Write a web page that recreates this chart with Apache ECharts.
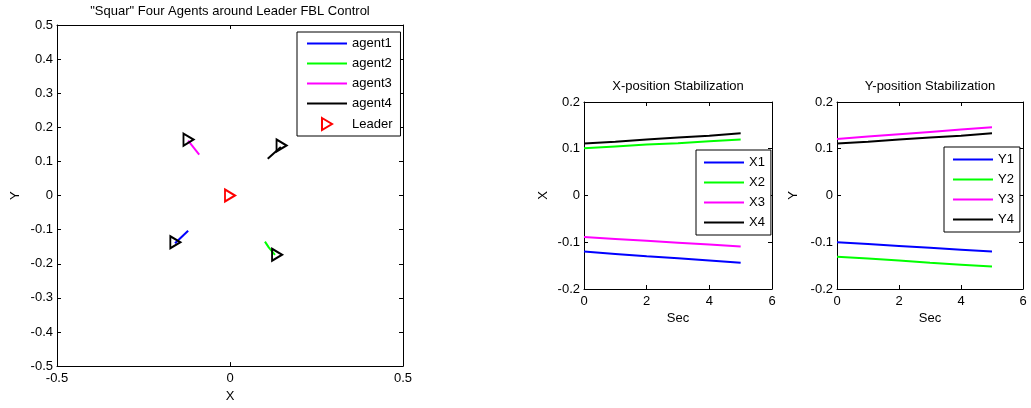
<!DOCTYPE html>
<html><head><meta charset="utf-8">
<script src="https://cdn.jsdelivr.net/npm/echarts@6/dist/echarts.min.js"></script>
<style>html,body{margin:0;padding:0;background:#fff}#c{width:1031px;height:408px}</style>
</head><body><div id="c"></div>
<script>
// ---- data ----
const timeSec = [0, 1, 2, 3, 4, 5];
const X1 = [-0.120, -0.125, -0.130, -0.134, -0.139, -0.144];
const X2 = [0.101, 0.105, 0.109, 0.112, 0.116, 0.120];
const X3 = [-0.089, -0.093, -0.097, -0.101, -0.105, -0.109];
const X4 = [0.111, 0.115, 0.120, 0.124, 0.128, 0.133];
const Y1 = [-0.100, -0.104, -0.108, -0.112, -0.116, -0.120];
const Y2 = [-0.131, -0.135, -0.139, -0.144, -0.148, -0.152];
const Y3 = [0.121, 0.126, 0.131, 0.136, 0.141, 0.146];
const Y4 = [0.111, 0.115, 0.120, 0.124, 0.128, 0.133];
const agent1Path = [[-0.121, -0.103], [-0.159, -0.140]];
const agent2Path = [[0.101, -0.135], [0.112, -0.152], [0.130, -0.174]];
const agent3Path = [[-0.089, 0.120], [-0.121, 0.161]];
const agent4Path = [[0.109, 0.108], [0.147, 0.142]];
const agentFinal = [[-0.158, -0.137], [0.136, -0.1735], [-0.120, 0.164], [0.149, 0.147]];
const leaderPos = [[0, 0]];
const agentNames = ['agent1', 'agent2', 'agent3', 'agent4', 'Leader'];
const xNames = ['X1', 'X2', 'X3', 'X4'];
const yNames = ['Y1', 'Y2', 'Y3', 'Y4'];
const colors = ['#0000ff', '#00ff00', '#ff00ff', '#000000'];

// ---- chart ----
const FONT = 'Liberation Sans, Arial, sans-serif';
const FS = 13;
const tri = 'path://M0,0L10,6L0,12Z';
const lineIcon = 'path://M0,0H40V2H0Z';
function zipT(vals) { return timeSec.map((t, i) => [t, vals[i]]); }

function axis(kind, grid, min, max, interval, opts) {
  opts = opts || {};
  const a = {
    type: 'value', gridIndex: grid, min: min, max: max, interval: interval,
    position: opts.position,
    axisLine: { show: true, onZero: false, lineStyle: { color: '#000', width: 1 } },
    axisTick: { show: true, inside: true, length: 4, lineStyle: { color: '#000' } },
    axisLabel: { show: !opts.mirror, color: '#000', fontFamily: FONT, fontSize: FS, margin: kind === 'x' ? 6 : 4 },
    splitLine: { show: false }
  };
  if (opts.name) {
    a.name = opts.name; a.nameLocation = 'middle'; a.nameGap = opts.nameGap;
    a.nameTextStyle = { color: '#000', fontFamily: FONT, fontSize: FS };
  }
  return a;
}

const grids = [
  { left: 57, top: 25, width: 346, height: 344 },
  { left: 584, top: 102, width: 188, height: 187 },
  { left: 837, top: 102, width: 186, height: 187 }
];

const xAxes = [
  axis('x', 0, -0.5, 0.5, 0.5, { position: 'bottom', name: 'X', nameGap: 22 }),
  axis('x', 1, 0, 6, 2, { position: 'bottom', name: 'Sec', nameGap: 23 }),
  axis('x', 2, 0, 6, 2, { position: 'bottom', name: 'Sec', nameGap: 23 }),
  axis('x', 0, -0.5, 0.5, 0.5, { position: 'top', mirror: true }),
  axis('x', 1, 0, 6, 2, { position: 'top', mirror: true }),
  axis('x', 2, 0, 6, 2, { position: 'top', mirror: true })
];
const yAxes = [
  axis('y', 0, -0.5, 0.5, 0.1, { position: 'left', name: 'Y', nameGap: 35 }),
  axis('y', 1, -0.2, 0.2, 0.1, { position: 'left', name: 'X', nameGap: 34 }),
  axis('y', 2, -0.2, 0.2, 0.1, { position: 'left', name: 'Y', nameGap: 37 }),
  axis('y', 0, -0.5, 0.5, 0.1, { position: 'right', mirror: true }),
  axis('y', 1, -0.2, 0.2, 0.1, { position: 'right', mirror: true }),
  axis('y', 2, -0.2, 0.2, 0.1, { position: 'right', mirror: true })
];

const series = [];
[agent1Path, agent2Path, agent3Path, agent4Path].forEach((p, i) => {
  series.push({ type: 'line', name: agentNames[i], xAxisIndex: 0, yAxisIndex: 0, data: p,
    symbol: 'none', lineStyle: { color: colors[i], width: 2 }, itemStyle: { color: colors[i] }, animation: false, z: 2 });
});
series.push({ type: 'scatter', name: 'agentsFinal', xAxisIndex: 0, yAxisIndex: 0, data: agentFinal,
  symbol: tri, symbolSize: [10, 12], itemStyle: { color: 'rgba(0,0,0,0)', borderColor: '#000', borderWidth: 2, opacity: 1 }, animation: false, z: 3 });
series.push({ type: 'scatter', name: 'Leader', xAxisIndex: 0, yAxisIndex: 0, data: leaderPos,
  symbol: tri, symbolSize: [10, 12], itemStyle: { color: 'rgba(255,0,0,0)', borderColor: '#ff0000', borderWidth: 2, opacity: 1 }, animation: false, z: 3 });
[X1, X2, X3, X4].forEach((v, i) => {
  series.push({ type: 'line', name: xNames[i], xAxisIndex: 1, yAxisIndex: 1, data: zipT(v),
    symbol: 'none', lineStyle: { color: colors[i], width: 2 }, itemStyle: { color: colors[i] }, animation: false });
});
[Y1, Y2, Y3, Y4].forEach((v, i) => {
  series.push({ type: 'line', name: yNames[i], xAxisIndex: 2, yAxisIndex: 2, data: zipT(v),
    symbol: 'none', lineStyle: { color: colors[i], width: 2 }, itemStyle: { color: colors[i] }, animation: false });
});

function legend(names, left, top, padding) {
  return {
    data: names.map(n => ({ name: n, icon: n === 'Leader' ? tri : lineIcon })),
    orient: 'vertical', left: left, top: top, padding: padding,
    itemWidth: 40, itemHeight: 12, itemGap: 7,
    borderColor: '#000', borderWidth: 1, backgroundColor: '#fff',
    selectedMode: false,
    textStyle: { color: '#000', fontFamily: FONT, fontSize: FS }
  };
}

function title(text, cx, top) {
  return { text: text, left: cx, top: top, textAlign: 'center', padding: 0,
    textStyle: { color: '#000', fontFamily: FONT, fontSize: FS, fontWeight: 'normal' } };
}

const chart = echarts.init(document.getElementById('c'), null, { renderer: 'canvas' });
chart.setOption({
  backgroundColor: '#fff',
  animation: false,
  title: [
    title('"Squar" Four Agents around Leader FBL Control', 230, 5),
    title('X-position Stabilization', 678, 80),
    title('Y-position Stabilization', 930, 80)
  ],
  legend: [
    legend(agentNames, 297, 32, [5, 8, 5, 10]),
    legend(xNames, 696, 150, [6, 6, 6, 8]),
    legend(yNames, 944, 147, [6, 6, 6, 9])
  ],
  grid: grids,
  xAxis: xAxes,
  yAxis: yAxes,
  series: series
});
</script>
</body></html>
